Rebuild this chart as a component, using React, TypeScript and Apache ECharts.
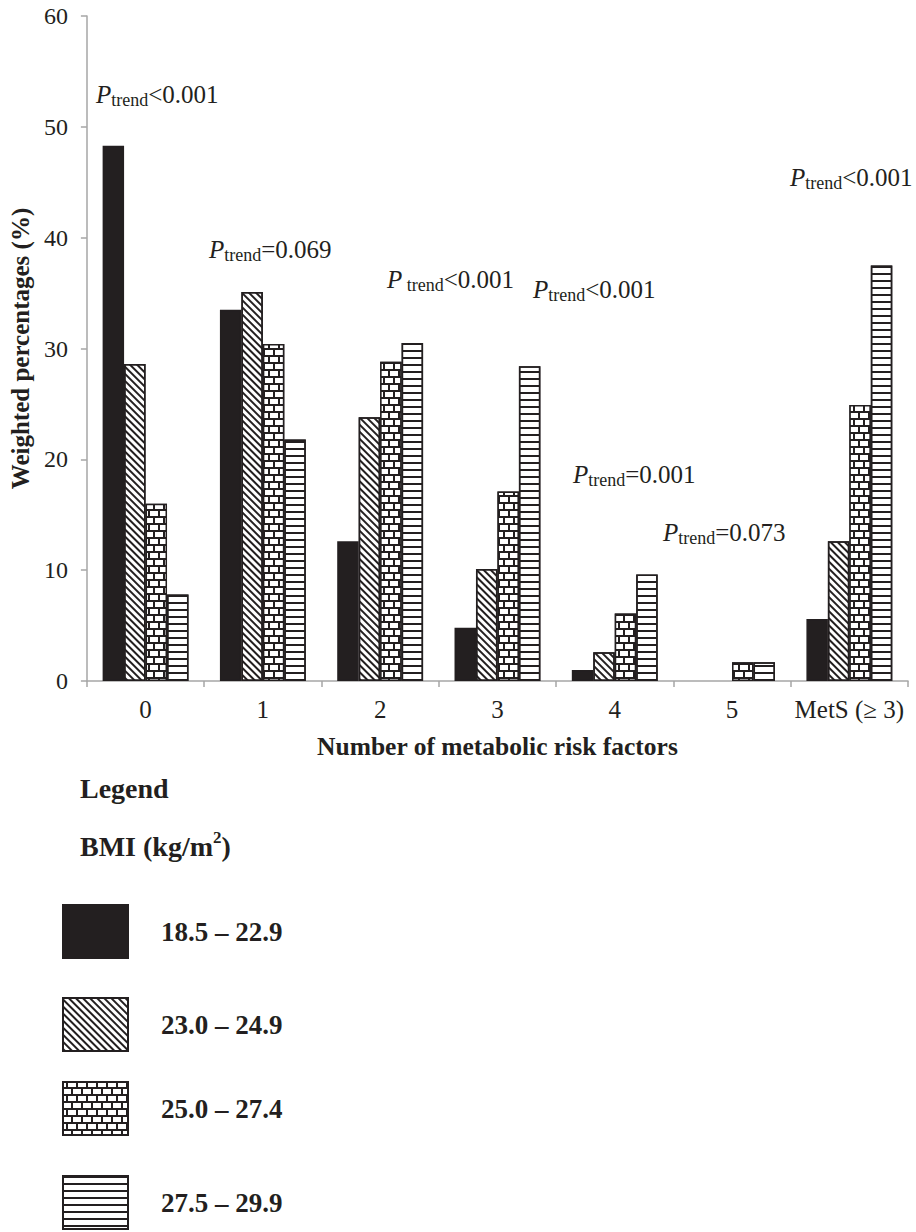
import React, { useEffect, useRef } from "react";
import * as echarts from "echarts";

const categories = ["0", "1", "2", "3", "4", "5", "MetS (≥ 3)"];
const bmiGroups = ["18.5 – 22.9", "23.0 – 24.9", "25.0 – 27.4", "27.5 – 29.9"];
const bmi1 = [48.3, 33.5, 12.6, 4.8, 1.0, 0, 5.6];
const bmi2 = [28.6, 35.1, 23.8, 10.1, 2.6, 0, 12.6];
const bmi3 = [16.0, 30.4, 28.8, 17.1, 6.1, 1.7, 24.9];
const bmi4 = [7.8, 21.8, 30.5, 28.4, 9.6, 1.7, 37.5];
const trendSpaced = [false, false, true, false, false, false, false];
const trendValues = ["<0.001", "=0.069", "<0.001", "<0.001", "=0.001", "=0.073", "<0.001"];
const yMin = 0;
const yMax = 60;
const yInterval = 10;

const FONT = "Liberation Serif";
const INK = "#231f20";

const trendPos = [
  [96, 82],
  [209, 237],
  [387, 267],
  [533, 277],
  [573, 462],
  [663, 520],
  [790, 165],
];
const legendTops = [904, 997, 1081, 1175];

export default function App() {
  const ref = useRef<HTMLDivElement>(null);
  useEffect(() => {
    if (!ref.current) return;
    const chart = echarts.init(ref.current, null, { renderer: "svg" });
    const seriesData = [bmi1, bmi2, bmi3, bmi4];
    const styles: any[] = [
      { color: INK, borderColor: INK, borderWidth: 1.5 },
      {
        color: "#ffffff",
        borderColor: INK,
        borderWidth: 1.5,
        decal: {
          symbol: "rect",
          symbolSize: 1,
          color: INK,
          dashArrayX: [1, 0],
          dashArrayY: [1.3, 2.3],
          rotation: Math.PI / 4,
        },
      },
      {
        color: INK,
        borderColor: INK,
        borderWidth: 1.5,
        decal: {
          symbol: "rect",
          symbolSize: 1,
          color: "#ffffff",
          dashArrayX: [
            [8, 2],
            [3, 2, 5, 0],
          ],
          dashArrayY: [4.5, 2],
          rotation: 0,
        },
      },
      {
        color: "#ffffff",
        borderColor: INK,
        borderWidth: 1.5,
        decal: {
          symbol: "rect",
          symbolSize: 1,
          color: INK,
          dashArrayX: [1, 0],
          dashArrayY: [1.8, 4.5],
          rotation: 0,
        },
      },
    ];

    const series = bmiGroups.map((name, i) => ({
      name,
      type: "bar",
      data: seriesData[i].map((v) => (v === 0 ? null : v)),
      barWidth: "18.3%",
      barGap: "0%",
      itemStyle: styles[i],
      emphasis: { disabled: true },
    }));

    const rich = {
      p: { fontFamily: FONT, fontSize: 25, fontStyle: "italic", color: INK, lineHeight: 28 },
      s: { fontFamily: FONT, fontSize: 18, color: INK, lineHeight: 16, verticalAlign: "bottom" },
      m: { fontFamily: FONT, fontSize: 25, color: INK, lineHeight: 28 },
    };

    const trendTexts = trendValues.map((v, i) => ({
      type: "text",
      left: trendPos[i][0],
      top: trendPos[i][1],
      style: {
        text: `{p|P}{s|${trendSpaced[i] ? " " : ""}trend}{m|${v}}`,
        rich,
        fill: INK,
        fontFamily: FONT,
      },
    }));

    const legends = bmiGroups.map((name, i) => ({
      data: [name],
      left: 62,
      top: legendTops[i],
      padding: 0,
      orient: "vertical",
      itemWidth: 65,
      itemHeight: 53,
      icon: "rect",
      selectedMode: false,
      textStyle: {
        fontFamily: FONT,
        fontSize: 27,
        fontWeight: "bold",
        color: INK,
        padding: [0, 0, 8, 28],
      },
    }));

    chart.setOption({
      animation: false,
      backgroundColor: "#ffffff",
      textStyle: { fontFamily: FONT },
      grid: { left: 82, right: 8, top: 16, bottom: 551, containLabel: false },
      legend: legends,
      xAxis: {
        type: "category",
        data: categories,
        axisLine: { lineStyle: { color: "#a6a6a6", width: 1.5 } },
        axisTick: { show: true, length: 6, lineStyle: { color: "#a6a6a6", width: 1.5 } },
        axisLabel: { fontFamily: FONT, fontSize: 25, color: INK, margin: 16, interval: 0 },
        name: "Number of metabolic risk factors",
        nameLocation: "middle",
        nameGap: 52,
        nameTextStyle: { fontFamily: FONT, fontSize: 25.5, fontWeight: "bold", color: INK },
      },
      yAxis: {
        type: "value",
        min: yMin,
        max: yMax,
        interval: yInterval,
        splitLine: { show: false },
        axisLine: { show: true, lineStyle: { color: "#a6a6a6", width: 1.5 } },
        axisTick: { show: true, length: 6, lineStyle: { color: "#a6a6a6", width: 1.5 } },
        axisLabel: { fontFamily: FONT, fontSize: 24, color: INK, margin: 19 },
        name: "Weighted percentages (%)",
        nameLocation: "middle",
        nameGap: 46,
        nameRotate: 90,
        nameTextStyle: { fontFamily: FONT, fontSize: 25, fontWeight: "bold", color: INK },
      },
      series,
      graphic: [
        ...trendTexts,
        {
          type: "text",
          left: 80,
          top: 774,
          style: { text: "Legend", fontFamily: FONT, fontSize: 28, fontWeight: "bold", fill: INK },
        },
        {
          type: "text",
          left: 80,
          top: 829,
          style: {
            text: "{b|BMI (kg/m}{sup|2}{b|)}",
            fontFamily: FONT,
            rich: {
              b: { fontFamily: FONT, fontSize: 28, fontWeight: "bold", lineHeight: 34, color: INK },
              sup: { fontFamily: FONT, fontSize: 17, fontWeight: "bold", lineHeight: 20, verticalAlign: "top", color: INK },
            },
            fill: INK,
          },
        },
      ],
    });
    return () => chart.dispose();
  }, []);
  return (
    <div
      ref={ref}
      style={{ position: "absolute", left: 0, top: 0, width: 916, height: 1232 }}
    />
  );
}
